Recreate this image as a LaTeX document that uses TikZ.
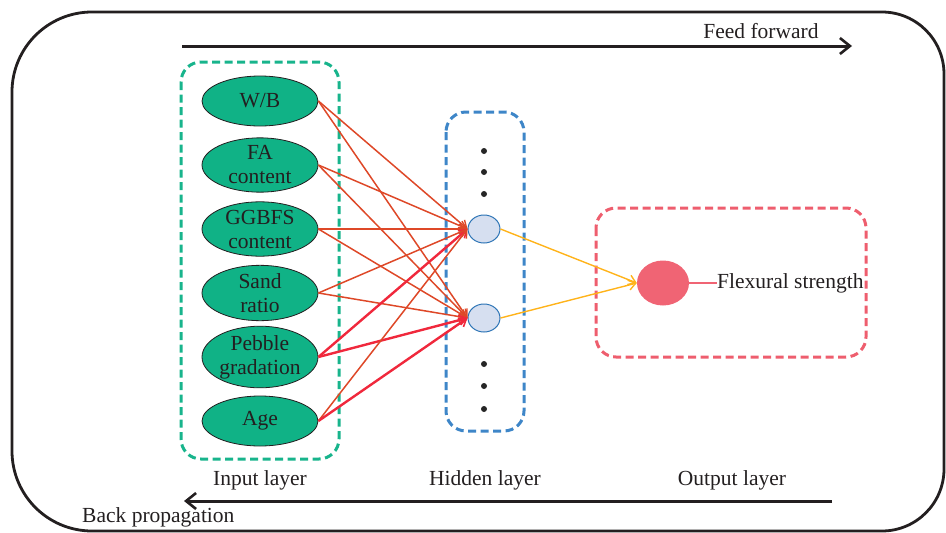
\documentclass[tikz,border=0pt]{standalone}
\usepackage{fontspec}
\setmainfont{Liberation Serif}
\usetikzlibrary{shapes.geometric,arrows.meta}

\definecolor{ingreen}{RGB}{16,178,134}
\definecolor{boxgreen}{RGB}{24,180,140}
\definecolor{boxblue}{RGB}{62,134,200}
\definecolor{boxred}{RGB}{238,94,110}
\definecolor{hidfill}{RGB}{214,223,240}
\definecolor{hidline}{RGB}{46,117,182}
\definecolor{outfill}{RGB}{240,100,116}
\definecolor{linkthin}{RGB}{222,72,40}
\definecolor{linkthick}{RGB}{240,40,60}
\definecolor{linkout}{RGB}{255,179,26}
\definecolor{txt}{RGB}{35,31,32}

\begin{document}
\begin{tikzpicture}[x=1pt,y=-1pt,
  every node/.style={font=\fontsize{21.5}{24}\selectfont, text=txt},
  frame/.style={line width=2.8pt, draw=txt},
  flowarrow/.style={line width=3pt, draw=txt, -{Straight Barb[length=10pt,width=16pt,line width=2.6pt]}},
  layerbox/.style={line width=3pt, dash pattern=on 8pt off 4.5pt, rounded corners=20pt},
  inputnode/.style={ellipse, draw=txt, line width=0.8pt, fill=ingreen, minimum width=116pt, minimum height=50pt, inner sep=0pt, align=center},
  hiddennode/.style={ellipse, draw=hidline, line width=1pt, fill=hidfill, minimum width=32pt, minimum height=28pt, inner sep=0pt},
  outnode/.style={ellipse, fill=outfill, minimum width=52pt, minimum height=45pt, inner sep=0pt},
  hdot/.style={circle, fill=black!85, minimum size=6pt, inner sep=0pt},
  link/.style={draw=linkthin, line width=1.5pt, -{Straight Barb[length=7pt,width=10pt,line width=1.4pt]}},
  linkbold/.style={draw=linkthick, line width=2.4pt, -{Straight Barb[length=7pt,width=10pt,line width=1.6pt]}},
  linkmid/.style={draw=linkthin, line width=2pt, -{Straight Barb[length=7pt,width=10pt,line width=1.4pt]}},
  outlink/.style={draw=linkout, line width=1.4pt, -{Straight Barb[length=7pt,width=10pt,line width=1.4pt]}}
]
\useasboundingbox (0,0) rectangle (946,533);

% outer frame
\draw[frame] (12,272) [rounded corners=80pt] -- (12,12) [rounded corners=62pt] -- (944,12) -- (944,531) [rounded corners=80pt] -- (12,531) -- cycle;

% direction arrows
\coordinate (ffs) at (182,46);
\coordinate (ffe) at (852,46);
\draw[flowarrow] (ffs) -- (ffe);
\node (fftext) at (761,31) {Feed forward};
\coordinate (bps) at (832,501);
\coordinate (bpe) at (184,501);
\draw[flowarrow] (bps) -- (bpe);
\node[anchor=west, inner sep=0pt] (bptext) at (82,517) {Back propagation};

% layer boxes
\draw[layerbox, draw=boxgreen] (181,62) rectangle (339,459);
\draw[layerbox, draw=boxblue] (446,112) rectangle (524,431);
\draw[layerbox, draw=boxred] (596,208) rectangle (866,357);

% layer captions
\node (lin) at (260,480) {Input layer};
\node (lhid) at (485,480) {Hidden layer};
\node (lout) at (732,480) {Output layer};

% input nodes
\node[inputnode] (i1) at (260,101) {W/B};
\node[inputnode] (i2) at (260,165) {FA\\content};
\node[inputnode] (i3) at (260,229) {GGBFS\\content};
\node[inputnode] (i4) at (260,293) {Sand\\ratio};
\node[inputnode] (i5) at (260,357) {Pebble\\gradation};
\node[inputnode] (i6) at (260,421) {Age};

% hidden nodes and ellipsis dots
\node[hiddennode] (h1) at (484,229) {};
\node[hiddennode] (h2) at (484,318) {};
\node[hdot] (d1) at (484,151) {};
\node[hdot] (d2) at (484,172) {};
\node[hdot] (d3) at (484,194) {};
\node[hdot] (d4) at (484,364) {};
\node[hdot] (d5) at (484,386) {};
\node[hdot] (d6) at (484,409) {};

% output node
\node[outnode] (o) at (663,283) {};
\node[anchor=west, inner sep=0pt] (otext) at (717,283) {Flexural strength};
\draw[draw=outfill, line width=1.6pt] (o.east) -- (otext.west);

% connections input -> hidden
\draw[link] (i1.east) -- (h1.west);
\draw[link] (i1.east) -- (h2.west);
\draw[link] (i2.east) -- (h1.west);
\draw[link] (i2.east) -- (h2.west);
\draw[linkmid] (i3.east) -- (h1.west);
\draw[link] (i3.east) -- (h2.west);
\draw[link] (i4.east) -- (h1.west);
\draw[link] (i4.east) -- (h2.west);
\draw[linkbold] (i5.east) -- (h1.west);
\draw[linkbold] (i5.east) -- (h2.west);
\draw[link] (i6.east) -- (h1.west);
\draw[linkbold] (i6.east) -- (h2.west);

% connections hidden -> output
\draw[outlink] (h1.east) -- (o.west);
\draw[outlink] (h2.east) -- (o.west);
\end{tikzpicture}
\end{document}
